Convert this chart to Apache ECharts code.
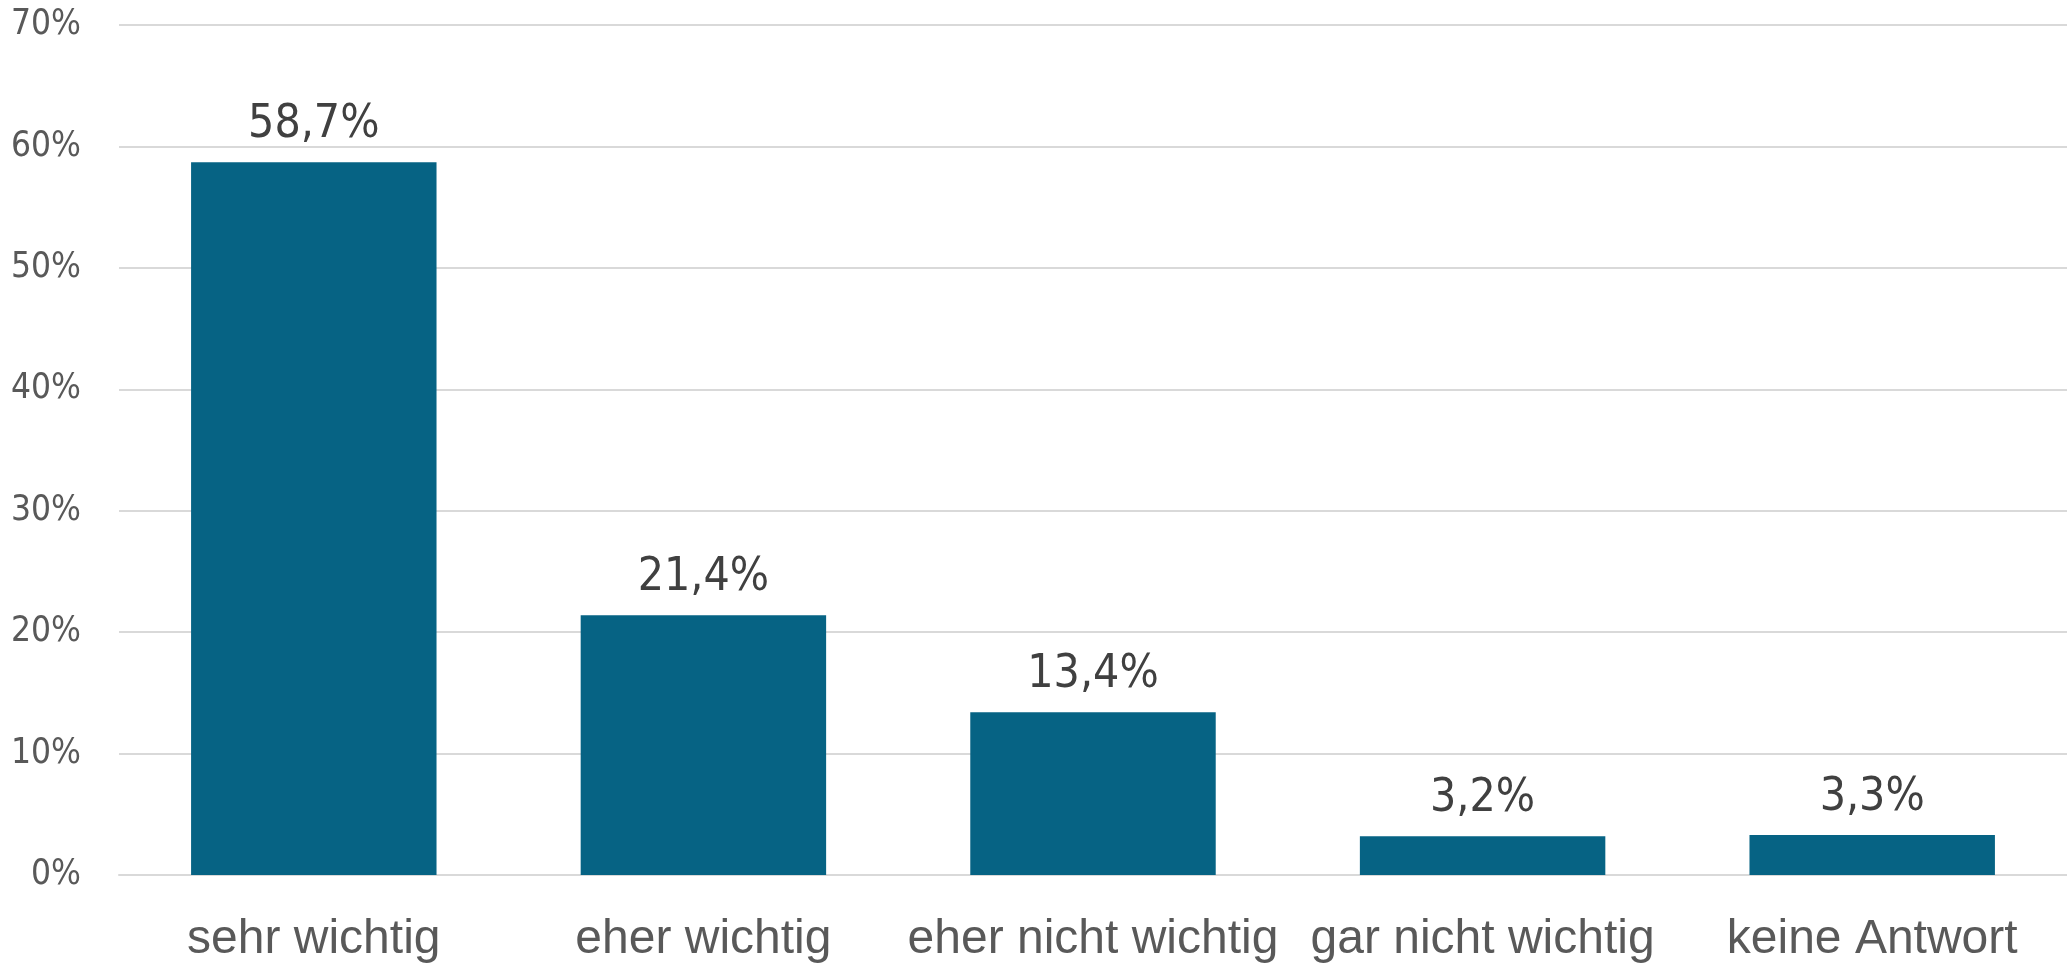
<!DOCTYPE html>
<html>
<head>
    <meta charset="utf-8">
    <title>Wichtigkeit</title>
    <script src="https://cdn.jsdelivr.net/npm/echarts@6/dist/echarts.min.js"></script>
    <style>
        html, body { margin: 0; padding: 0; background: #fff; }
        #chart { width: 2067px; height: 967px; }
    </style>
</head>
<body>
    <div id="chart"></div>
    <script>
        // Daten aus der Grafik
        var categories = ['sehr wichtig', 'eher wichtig', 'eher nicht wichtig', 'gar nicht wichtig', 'keine Antwort'];
        var values = [58.7, 21.4, 13.4, 3.2, 3.3];
        var yTicks = [0, 10, 20, 30, 40, 50, 60, 70];

        var fontFamily = '"Liberation Sans", Arial, sans-serif';
        var narrowFont = '"Liberation Sans Narrow", "DejaVu Sans Condensed", sans-serif';

        var chart = echarts.init(document.getElementById('chart'));
        chart.setOption({
            animation: false,
            grid: { left: 119, right: 0, top: 25, bottom: 92, outerBoundsMode: 'none', containLabel: false },
            xAxis: {
                type: 'category',
                data: categories,
                axisLine: { show: true, lineStyle: { color: '#d9d9d9', width: 2 } },
                axisTick: { show: false },
                axisLabel: {
                    color: '#595959',
                    fontSize: 48,
                    fontFamily: fontFamily,
                    margin: 41,
                    interval: 0
                }
            },
            yAxis: {
                type: 'value',
                min: yTicks[0],
                max: yTicks[yTicks.length - 1],
                interval: 10,
                axisLine: { show: false },
                axisTick: { show: false },
                splitLine: { lineStyle: { color: '#d9d9d9', width: 2 } },
                axisLabel: {
                    color: '#595959',
                    fontSize: 35,
                    fontFamily: narrowFont,
                    margin: 38,
                    formatter: function (v) { return v + '%'; }
                }
            },
            series: [{
                type: 'bar',
                data: values,
                barWidth: '63%',
                itemStyle: { color: '#066384' },
                label: {
                    show: true,
                    position: 'top',
                    distance: 14,
                    color: '#404040',
                    fontSize: 46,
                    fontFamily: narrowFont,
                    formatter: function (p) { return p.value.toFixed(1).replace('.', ',') + '%'; }
                }
            }]
        });
    </script>
</body>
</html>
